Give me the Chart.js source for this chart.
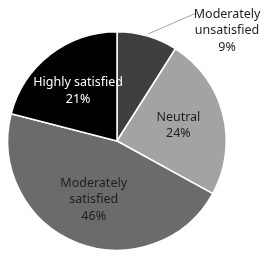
<!DOCTYPE html>
<html>
<head>
<meta charset="utf-8">
<script src="https://cdn.jsdelivr.net/npm/chart.js@4/dist/chart.umd.min.js"></script>
<style>
  html, body { margin: 0; padding: 0; background: #fff; }
  #wrap { width: 267px; height: 257px; }
</style>
</head>
<body>
<div id="wrap"><canvas id="pieChart" width="267" height="257"></canvas></div>
<script>
// datos del grafico
const categories = [['Moderately', 'unsatisfied'], ['Neutral'], ['Moderately', 'satisfied'], ['Highly satisfied']];
const percents = [9, 24, 46, 21];
const sliceColors = ['#3f3f3f', '#a3a3a3', '#6b6b6b', '#000000'];
const textColors = ['#1e1e1e', '#1e1e1e', '#1e1e1e', '#ffffff'];

const FONT = '12.5px "Noto Sans", sans-serif';
const LINE_H = 16.5;

// etiquetas dentro / fuera de las porciones
const labelPlugin = {
  id: 'sliceLabels',
  afterDatasetsDraw(chart) {
    const ctx = chart.ctx;
    const meta = chart.getDatasetMeta(0);
    ctx.save();
    ctx.font = FONT;
    ctx.textAlign = 'center';
    ctx.textBaseline = 'middle';
    meta.data.forEach((arc, i) => {
      const p = arc.getProps(['x', 'y', 'startAngle', 'endAngle', 'outerRadius']);
      const mid = (p.startAngle + p.endAngle) / 2;
      const lines = categories[i].concat([percents[i] + '%']);
      if (percents[i] < 10) {
        // etiqueta exterior con linea guia
        const sx = p.x + Math.cos(mid) * p.outerRadius * 1.02;
        const sy = p.y + Math.sin(mid) * p.outerRadius * 1.02;
        const ex = sx + 46;
        const ey = sy - 20;
        ctx.strokeStyle = '#a6a6a6';
        ctx.lineWidth = 1;
        ctx.beginPath();
        ctx.moveTo(sx, sy);
        ctx.lineTo(ex, ey);
        ctx.lineTo(ex + 3, ey);
        ctx.stroke();
        ctx.fillStyle = textColors[i];
        const cx = ex + 33;
        const cy = ey + LINE_H;
        lines.forEach((t, k) => {
          ctx.fillText(t, cx, cy + (k - (lines.length - 1) / 2) * LINE_H);
        });
      } else {
        const r = p.outerRadius * 0.58;
        const cx = p.x + Math.cos(mid) * r;
        const cy = p.y + Math.sin(mid) * r;
        ctx.fillStyle = textColors[i];
        lines.forEach((t, k) => {
          ctx.fillText(t, cx, cy + (k - (lines.length - 1) / 2) * LINE_H);
        });
      }
    });
    ctx.restore();
  }
};

const ctx = document.getElementById('pieChart').getContext('2d');
const pieChart = new Chart(ctx, {
  type: 'pie',
  data: {
    labels: categories.map(c => c.join(' ')),
    datasets: [{
      data: percents,
      backgroundColor: sliceColors,
      borderColor: '#ffffff',
      borderWidth: 1.5
    }]
  },
  options: {
    responsive: false,
    animation: false,
    layout: { padding: { left: 7, right: 40, top: 31, bottom: 6 } },
    plugins: {
      legend: { display: false },
      tooltip: { enabled: false }
    }
  },
  plugins: [labelPlugin]
});
</script>
</body>
</html>
